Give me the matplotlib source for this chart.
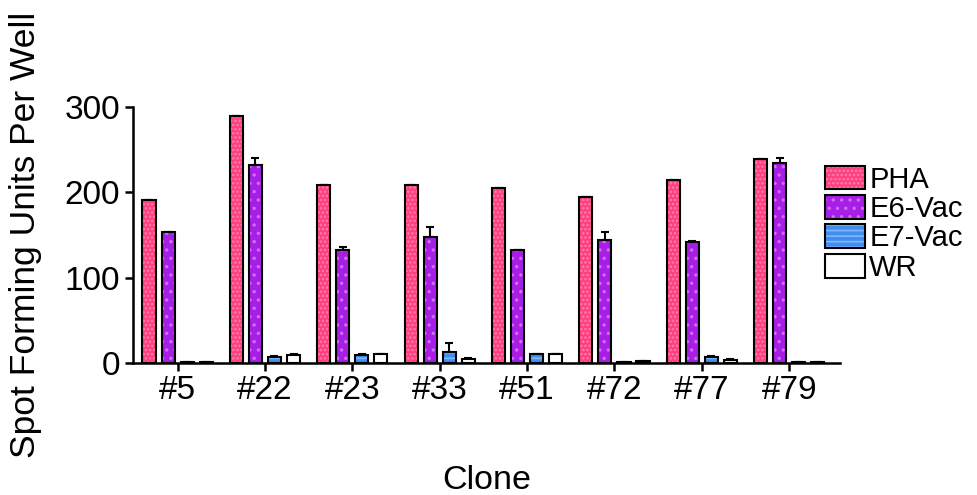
import numpy as np
from matplotlib import pyplot as plt
from matplotlib.patches import Patch

plt.rcParams['font.family'] = ['Liberation Sans', 'DejaVu Sans']
plt.rcParams['hatch.linewidth'] = 1.2

clones = ["#5", "#22", "#23", "#33", "#51", "#72", "#77", "#79"]
series = ["PHA", "E6-Vac", "E7-Vac", "WR"]

pha = [191, 289, 209, 209, 205, 194, 214, 239]
e6 = [153, 232, 132, 148, 132, 144, 142, 234]
e7 = [1, 7, 9, 13, 10, 1, 7, 1]
wr = [1.5, 9, 10, 5, 10, 2, 3, 1]

pha_err = [0, 0, 0, 0, 0, 0, 0, 0]
e6_err = [1, 8, 4, 11, 1, 9, 1, 6]
e7_err = [0, 1, 2, 10, 1, 0, 1, 0]
wr_err = [0, 1, 1, 1, 0, 0, 2, 0]

faces = ["#ff3f80", "#a81ee6", "#3f8ef0", "white"]
hatch_cols = ["#ff80ac", "#c873f0", "#80b8ff", "white"]
hatches = ["....", "..", "---", None]

vals = [pha, e6, e7, wr]
errs = [pha_err, e6_err, e7_err, wr_err]

fig = plt.figure(figsize=(9.77, 4.95), dpi=100)
ax = fig.add_axes([0.136, 0.2667, 0.724, 0.5171])

x = np.arange(len(clones))
pitch = 0.218
w = 0.15
for i in range(4):
    pos = x + (i - 1.5) * pitch
    ax.bar(pos, vals[i], w, color=faces[i], edgecolor=hatch_cols[i],
           hatch=hatches[i], linewidth=0, zorder=2)
    ax.bar(pos, vals[i], w, fill=False, edgecolor="black", linewidth=1.5, zorder=3)
    ax.errorbar(pos, vals[i], yerr=[np.zeros(len(x)), errs[i]], fmt="none",
                ecolor="black", elinewidth=1.5, capsize=3, capthick=1.5, zorder=1)

ax.set_xlim(-0.512, 7.584)
ax.set_ylim(0, 300)
ax.set_yticks([0, 100, 200, 300])
ax.set_xticks(x)
ax.set_xticklabels(clones)
for s in ["top", "right"]:
    ax.spines[s].set_visible(False)
for s in ["left", "bottom"]:
    ax.spines[s].set_linewidth(1.8)
ax.tick_params(axis="both", direction="out", length=6, width=1.8, labelsize=24, pad=3)

ax.set_ylabel("Spot Forming Units Per Well", fontsize=25.5)
ax.yaxis.set_label_coords(-0.128, 0.5)
ax.set_xlabel("Clone", fontsize=24.5, labelpad=42)

handles = []
for i in range(4):
    h1 = Patch(facecolor=faces[i], edgecolor=hatch_cols[i], hatch=hatches[i], linewidth=0)
    h2 = Patch(fill=False, edgecolor="black", linewidth=1.5)
    handles.append((h1, h2))
leg = fig.legend(handles, series, loc="upper left", bbox_to_anchor=(0.829, 0.695),
                 frameon=False, fontsize=21, handlelength=1.38, handleheight=0.88,
                 handletextpad=0.15, labelspacing=0.05, borderpad=0)

plt.savefig("out.png", dpi=100)
plt.close()
